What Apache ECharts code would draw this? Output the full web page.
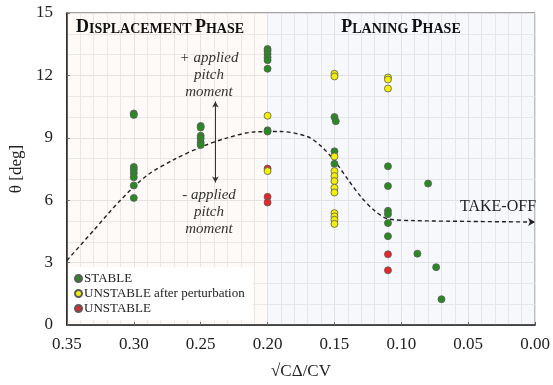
<!DOCTYPE html>
<html>
<head>
<meta charset="utf-8">
<script src="https://cdn.jsdelivr.net/npm/echarts@6/dist/echarts.min.js"></script>
<style>
html,body{margin:0;padding:0;background:#fff;}
#chart{width:553px;height:385px;}
</style>
</head>
<body>
<div id="chart"></div>
<script>
// ---- data ----
var xTicks = [0.35, 0.30, 0.25, 0.20, 0.15, 0.10, 0.05, 0.00];
var yTicks = [0, 3, 6, 9, 12, 15];

var stablePoints = [
  [0.30, 10.17], [0.30, 10.10], [0.30, 7.60], [0.30, 7.46], [0.30, 7.29], [0.30, 7.10], [0.30, 6.71], [0.30, 6.11],
  [0.25, 9.57], [0.25, 9.49], [0.25, 9.10], [0.25, 8.97], [0.25, 8.78], [0.25, 8.65],
  [0.20, 13.27], [0.20, 13.17], [0.20, 13.03], [0.20, 12.87], [0.20, 12.73], [0.20, 12.32], [0.20, 9.36], [0.20, 9.30],
  [0.15, 10.00], [0.149, 9.80], [0.15, 8.35], [0.15, 7.75],
  [0.11, 7.63], [0.11, 6.68], [0.11, 5.49], [0.11, 5.33], [0.11, 4.90], [0.11, 4.27],
  [0.088, 3.43], [0.080, 6.80], [0.074, 2.78], [0.070, 1.24]
];
var unstableAfterPoints = [
  [0.20, 10.06], [0.20, 7.40],
  [0.15, 12.08], [0.15, 11.95], [0.15, 8.10], [0.15, 7.40], [0.15, 7.16], [0.15, 6.92], [0.15, 6.60], [0.15, 6.37],
  [0.15, 5.38], [0.15, 5.22], [0.15, 5.06], [0.15, 4.86],
  [0.11, 11.90], [0.11, 11.80], [0.11, 11.37]
];
var unstablePoints = [
  [0.20, 7.52], [0.20, 6.16], [0.20, 5.89],
  [0.11, 3.40], [0.11, 2.63]
];

var curveX = [0.35, 0.33, 0.31, 0.29, 0.27, 0.25, 0.23, 0.21, 0.19, 0.17, 0.16, 0.15, 0.14, 0.13, 0.12, 0.11, 0.09, 0.05, 0.00];
var curveY = [3.10, 4.55, 6.00, 7.20, 7.95, 8.55, 9.00, 9.28, 9.30, 9.05, 8.60, 7.90, 7.00, 6.15, 5.50, 5.10, 5.02, 4.98, 4.95];

var pitchArrow = [[0.239, 10.75], [0.239, 6.85]];
var phaseBoundary = 0.20;

var seriesNames = ['STABLE', 'UNSTABLE after perturbation', 'UNSTABLE'];
var colors = {stable: '#2a8a22', pert: '#f4f000', unst: '#e6262a'};
// ---- chart ----
var serif = '"Liberation Serif", "DejaVu Serif", serif';
var chart = echarts.init(document.getElementById('chart'));

var curveData = curveX.map(function (x, i) {
  var item = {value: [x, curveY[i]]};
  if (i === curveX.length - 1) {
    item.symbol = 'arrow';
    item.symbolSize = [6, 7];
    item.symbolRotate = -90;
    item.itemStyle = {color: '#222', borderWidth: 0};
  }
  return item;
});

function pointStyle(c) {
  return {color: c, borderColor: '#5a5a5a', borderWidth: 0.8, opacity: 1};
}

var titleRich = {
  a: {fontFamily: serif, fontWeight: 'bold', fontSize: 18, fill: '#111', verticalAlign: 'bottom', lineHeight: 19},
  b: {fontFamily: serif, fontWeight: 'bold', fontSize: 14, fill: '#111', verticalAlign: 'bottom', lineHeight: 19}
};

var option = {
  animation: false,
  backgroundColor: '#fff',
  grid: {left: 57, right: 16, top: 13, bottom: 58, show: true, borderColor: '#444', borderWidth: 1, backgroundColor: 'transparent'},
  xAxis: {
    type: 'value', inverse: true, min: xTicks[xTicks.length - 1], max: xTicks[0], interval: 0.05,
    axisLine: {show: true, onZero: false, lineStyle: {color: '#111', width: 1.5}},
    axisTick: {show: true, inside: true, length: 3, lineStyle: {color: '#555'}},
    axisLabel: {formatter: function (v) { return v.toFixed(2); }, fontFamily: serif, fontSize: 17, color: '#222', margin: 11},
    splitLine: {show: true, lineStyle: {color: '#e3e3e3', width: 1}},
    minorTick: {show: false, splitNumber: 5},
    minorSplitLine: {show: true, lineStyle: {color: '#e9e9e9', width: 1}},
    name: '\u221ACΔ/CV', nameLocation: 'middle', nameGap: 38,
    nameTextStyle: {fontFamily: serif, fontSize: 17, color: '#222'}
  },
  yAxis: {
    type: 'value', min: yTicks[0], max: yTicks[yTicks.length - 1], interval: 3,
    axisLine: {show: true, onZero: false, lineStyle: {color: '#111', width: 1.5}},
    axisTick: {show: true, inside: true, length: 3, lineStyle: {color: '#555'}},
    axisLabel: {fontFamily: serif, fontSize: 17, color: '#222', margin: 14},
    splitLine: {show: true, lineStyle: {color: '#e3e3e3', width: 1}},
    minorTick: {show: false, splitNumber: 3},
    minorSplitLine: {show: true, lineStyle: {color: '#e9e9e9', width: 1}},
    name: 'θ [deg]', nameLocation: 'middle', nameGap: 36,
    nameTextStyle: {fontFamily: serif, fontSize: 17, color: '#222'}
  },
  legend: {
    data: seriesNames,
    orient: 'vertical', left: 68, top: 267,
    backgroundColor: '#ffffff', padding: [5, 8, 5, 6], itemGap: 2,
    icon: 'circle', itemWidth: 7, itemHeight: 7,
    textStyle: {fontFamily: serif, fontSize: 13, color: '#222', padding: [0, 0, 0, -3]}
  },
  series: [
    {
      name: 'bg', type: 'line', data: [], silent: true,
      markArea: {
        silent: true,
        data: [
          [{xAxis: xTicks[0], itemStyle: {color: 'rgba(250,225,205,0.16)'}}, {xAxis: phaseBoundary}],
          [{xAxis: phaseBoundary, itemStyle: {color: 'rgba(205,218,240,0.18)'}}, {xAxis: xTicks[xTicks.length - 1]}]
        ]
      },
      markLine: {
        silent: true, symbol: ['arrow', 'arrow'], symbolSize: [5, 6],
        lineStyle: {color: '#333', width: 1, type: 'solid'},
        label: {show: false},
        data: [[{coord: pitchArrow[0]}, {coord: pitchArrow[1]}]]
      }
    },
    {
      name: 'curve', type: 'line', data: curveData, smooth: 0.3,
      symbol: 'none', showSymbol: true, showAllSymbol: true, silent: true, z: 3,
      lineStyle: {color: '#222', width: 1.4, type: [4, 3]}
    },
    {name: seriesNames[0], type: 'scatter', data: stablePoints, symbolSize: 7, itemStyle: pointStyle(colors.stable), z: 4},
    {name: seriesNames[2], type: 'scatter', data: unstablePoints, symbolSize: 7, itemStyle: pointStyle(colors.unst), z: 4},
    {name: seriesNames[1], type: 'scatter', data: unstableAfterPoints, symbolSize: 7, itemStyle: pointStyle(colors.pert), z: 5}
  ],
  graphic: [
    {type: 'text', x: 160, y: 27, style: {
      text: '{a|D}{b|ISPLACEMENT} {a|P}{b|HASE}', align: 'center', verticalAlign: 'middle', rich: titleRich
    }, z: 10},
    {type: 'text', x: 401, y: 27, style: {
      text: '{a|P}{b|LANING} {a|P}{b|HASE}', align: 'center', verticalAlign: 'middle', rich: titleRich
    }, z: 10},
    {type: 'text', x: 209, y: 75, style: {
      text: '+ applied\npitch\nmoment', align: 'center', verticalAlign: 'middle', lineHeight: 17,
      fontFamily: serif, fontStyle: 'italic', fontSize: 15, fill: '#333'
    }, z: 10},
    {type: 'text', x: 209, y: 212, style: {
      text: '- applied\npitch\nmoment', align: 'center', verticalAlign: 'middle', lineHeight: 17,
      fontFamily: serif, fontStyle: 'italic', fontSize: 15, fill: '#333'
    }, z: 10},
    {type: 'text', x: 498, y: 207, style: {
      text: 'TAKE-OFF', align: 'center', verticalAlign: 'middle',
      fontFamily: serif, fontSize: 16, fill: '#222'
    }, z: 10}
  ]
};
chart.setOption(option);
</script>
</body>
</html>
